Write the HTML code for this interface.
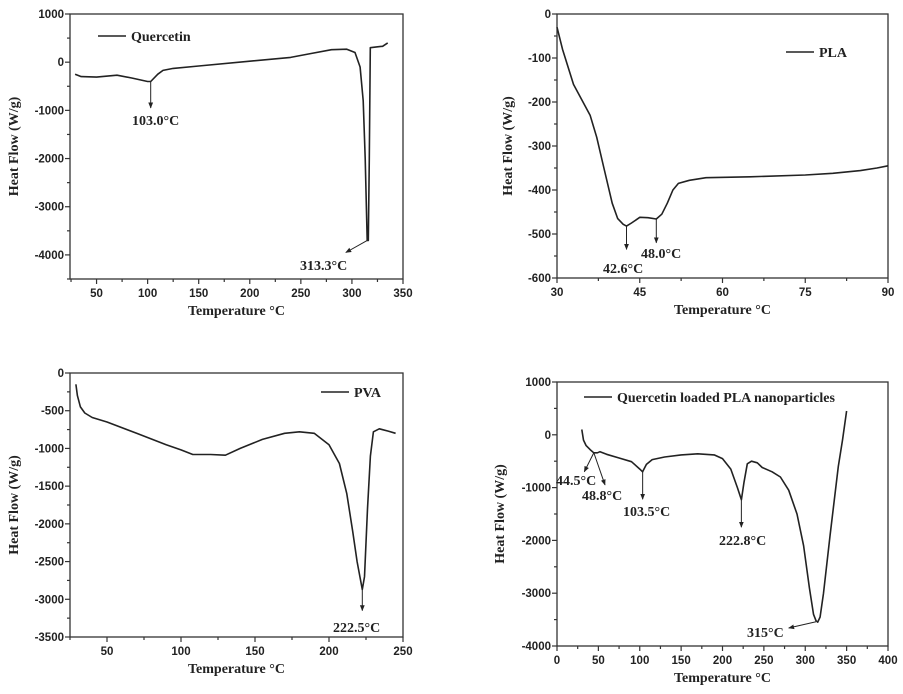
<!DOCTYPE html>
<html><head><meta charset="utf-8">
<style>
body{margin:0;background:#fff;}
svg{display:block;}
.tick{font-family:"Liberation Sans",Arial,sans-serif;font-weight:bold;font-size:11.5px;fill:#222;}
.title{font-family:"Liberation Serif",serif;font-weight:bold;font-size:14px;fill:#222;}
.ann{font-family:"Liberation Serif",serif;font-weight:bold;font-size:14px;fill:#222;}
</style></head>
<body>
<svg id="fig" width="903" height="694" viewBox="0 0 903 694" xmlns="http://www.w3.org/2000/svg">
<defs><marker id="ah" viewBox="0 0 10 10" refX="9" refY="5" markerWidth="6" markerHeight="6" orient="auto"><path d="M0,1 L10,5 L0,9 z" fill="#222"/></marker></defs>
</svg>
<script>
// ---- data ----
const quercetinX=[29,35,50,70,85,100,103,110,115,125,150,200,240,260,280,295,303,308,311,313,315,316,317,318,325,330,335];
const quercetinY=[-250,-300,-310,-270,-330,-400,-400,-250,-170,-130,-80,20,100,180,260,270,200,-100,-800,-2000,-3700,-3700,-2000,300,320,330,400];
const plaX=[30,31,33,36,37.2,38.5,40,41,42,42.6,43.5,45,46.5,48,49,50,51,52,54,57,65,75,80,85,88,90];
const plaY=[-30,-80,-160,-230,-280,-350,-430,-465,-478,-482,-475,-462,-463,-466,-455,-430,-400,-385,-378,-372,-370,-366,-362,-356,-350,-345];
const pvaX=[29,30,32,35,40,50,70,90,100,108,120,130,140,155,170,180,190,200,207,212,216,219,222.5,224,226,228,230,234,240,245];
const pvaY=[-150,-300,-450,-530,-590,-650,-800,-950,-1020,-1080,-1080,-1090,-1000,-880,-800,-780,-800,-950,-1200,-1600,-2100,-2500,-2870,-2700,-1800,-1100,-780,-740,-770,-800];
const nanoX=[30,32,35,40,44.5,48.8,52,60,75,90,100,103.5,108,115,130,150,170,190,200,210,218,222.8,226,230,235,242,248,260,270,280,290,298,305,310,313,315,318,322,330,340,345,350];
const nanoY=[100,-100,-200,-280,-340,-340,-320,-370,-440,-510,-650,-700,-560,-470,-420,-380,-360,-380,-450,-650,-1000,-1230,-900,-550,-500,-530,-620,-700,-800,-1050,-1500,-2100,-2900,-3400,-3520,-3550,-3450,-3000,-1900,-600,-100,450];
const qXTicks=[50,100,150,200,250,300,350], qYTicks=[1000,0,-1000,-2000,-3000,-4000];
const pXTicks=[30,45,60,75,90], pYTicks=[0,-100,-200,-300,-400,-500,-600];
const vXTicks=[50,100,150,200,250], vYTicks=[0,-500,-1000,-1500,-2000,-2500,-3000,-3500];
const nXTicks=[0,50,100,150,200,250,300,350,400], nYTicks=[1000,0,-1000,-2000,-3000,-4000];

const NS="http://www.w3.org/2000/svg";
const svg=document.getElementById('fig');
function mk(tag,attrs,parent){const e=document.createElementNS(NS,tag);for(const k in attrs)e.setAttribute(k,attrs[k]);(parent||svg).appendChild(e);return e;}

function panel(cfg){
  const g=mk('g',{});
  
  
  const sx=v=>cfg.L+(v-cfg.x0)/(cfg.x1-cfg.x0)*(cfg.R-cfg.L);
  const sy=v=>cfg.T+(cfg.y1-v)/(cfg.y1-cfg.y0)*(cfg.B-cfg.T);
  const frame=mk('rect',{x:cfg.L,y:cfg.T,width:cfg.R-cfg.L,height:cfg.B-cfg.T,fill:'none',stroke:'#333','stroke-width':1.3},g);
  
  
  const xt=cfg.xt, xstep=xt[1]-xt[0];
  for(let v=xt[0]-xstep;v<=cfg.x1+1e-9;v+=xstep/2){
    if(v<cfg.x0-1e-9)continue;
    const major=xt.some(t=>Math.abs(t-v)<1e-9);
    const x=sx(v);
    mk('line',{x1:x,y1:cfg.B,x2:x,y2:cfg.B+(major?5:3),stroke:'#333','stroke-width':1.2},g);
  }
  xt.forEach(v=>{const t=mk('text',{x:sx(v),y:cfg.B+18,'text-anchor':'middle',class:'tick'},g);t.textContent=v;
    });
  const yt=cfg.yt, ystep=yt[0]-yt[1];
  for(let v=cfg.y1;v>=cfg.y0-1e-9;v-=ystep/2){
    const major=yt.some(t=>Math.abs(t-v)<1e-9);
    const y=sy(v);
    mk('line',{x1:cfg.L,y1:y,x2:cfg.L-(major?5:3),y2:y,stroke:'#333','stroke-width':1.2},g);
  }
  yt.forEach(v=>{const t=mk('text',{x:cfg.L-6,y:sy(v)+4,'text-anchor':'end',class:'tick'},g);t.textContent=v;
    });
  const xl=mk('text',{x:(cfg.L+cfg.R)/2,y:cfg.B+36,'text-anchor':'middle',class:'title'},g);
  xl.textContent='Temperature °C';
  
  const yx=cfg.ylx, yy=(cfg.T+cfg.B)/2;
  const yl=mk('text',{x:yx,y:yy,'text-anchor':'middle',class:'title',transform:`rotate(-90 ${yx} ${yy})`},g);
  yl.textContent='Heat Flow (W/g)';
  
  const d=cfg.xs.map((x,i)=>(i?'L':'M')+sx(x).toFixed(1)+','+sy(cfg.ys[i]).toFixed(1)).join(' ');
  const p=mk('path',{d:d,fill:'none',stroke:'#222','stroke-width':1.6,'stroke-linejoin':'round'},g);
  
  const lg=mk('g',{},g);
  
  mk('line',{x1:cfg.lg[0],y1:cfg.lg[1],x2:cfg.lg[0]+28,y2:cfg.lg[1],stroke:'#222','stroke-width':1.5},lg);
  const lt=mk('text',{x:cfg.lg[0]+33,y:cfg.lg[1]+5,class:'ann'},lg);lt.textContent=cfg.label;
  cfg.ann.forEach(a=>{
    const ln=mk('line',{x1:sx(a[0]),y1:sy(a[1]),x2:sx(a[2]),y2:sy(a[3]),stroke:'#222','stroke-width':1,'marker-end':'url(#ah)'},g);
    
    const t=mk('text',{x:a[4],y:a[5],class:'ann'},g);t.textContent=a[6];
    
  });
}
panel({name:'quercetin',L:70,R:403,T:14,B:279,x0:24,x1:350,y0:-4500,y1:1000,xt:qXTicks,yt:qYTicks,xs:quercetinX,ys:quercetinY,ylx:18,
  lg:[98,36],label:'Quercetin',
  ann:[[103,-400,103,-950,132,125,'103.0°C'],[315,-3700,294,-3950,300,270,'313.3°C']]});
panel({name:'pla',L:557,R:888,T:14,B:278,x0:30,x1:90,y0:-600,y1:0,xt:pXTicks,yt:pYTicks,xs:plaX,ys:plaY,ylx:512,
  lg:[786,52],label:'PLA',
  ann:[[42.6,-482,42.6,-535,603,273,'42.6°C'],[48,-466,48,-520,641,258,'48.0°C']]});
panel({name:'pva',L:70,R:403,T:373,B:637,x0:25,x1:250,y0:-3500,y1:0,xt:vXTicks,yt:vYTicks,xs:pvaX,ys:pvaY,ylx:18,
  lg:[321,392],label:'PVA',
  ann:[[222.5,-2870,222.5,-3150,333,632,'222.5°C']]});
panel({name:'quercetin-pla-nano',L:557,R:888,T:382,B:646,x0:0,x1:400,y0:-4000,y1:1000,xt:nXTicks,yt:nYTicks,xs:nanoX,ys:nanoY,ylx:504,
  lg:[584,397],label:'Quercetin loaded PLA nanoparticles',
  ann:[[44.5,-340,33,-700,556,485,'44.5°C'],[44.5,-340,58,-950,582,500,'48.8°C'],[103.5,-700,103.5,-1220,623,516,'103.5°C'],[222.8,-1230,222.8,-1750,719,545,'222.8°C'],[313,-3540,280,-3660,747,637,'315°C']]});
</script>
</body></html>
